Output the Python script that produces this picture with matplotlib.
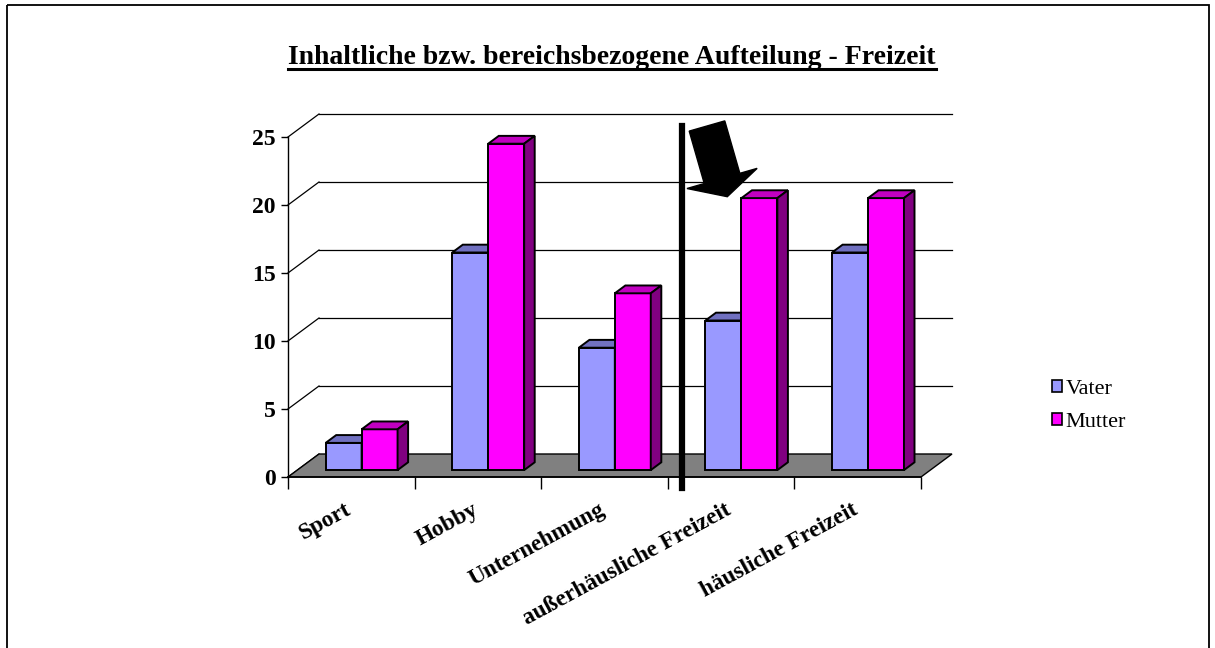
import numpy as np
import matplotlib.pyplot as plt
from matplotlib.patches import Polygon, Patch, Rectangle, FancyArrow

# data
categories = ['Sport', 'Hobby', 'Unternehmung', 'außerhäusliche Freizeit', 'häusliche Freizeit']
vater = [2, 16, 9, 11, 16]
mutter = [3, 24, 13, 20, 20]
series_names = ['Vater', 'Mutter']
y_ticks = [0, 5, 10, 15, 20, 25]
title_text = 'Inhaltliche bzw. bereichsbezogene Aufteilung - Freizeit'

# face colours: front, top, side
vater_colors = ('#9999ff', '#7070c0', '#4d4d99')
mutter_colors = ('#ff00ff', '#c000c0', '#800080')

W, H = 1215, 648
plt.rcParams['font.family'] = ['Liberation Serif', 'DejaVu Serif']
fig = plt.figure(figsize=(W / 100, H / 100), dpi=100)

n = len(categories)
ymax = 25

# front plane of the box: categories 0..n, values 0..ymax
ax = fig.add_axes([288 / W, 1 - 477 / H, 633 / W, 340 / H])
ax.set_xlim(0, n)
ax.set_ylim(0, ymax)
ax.patch.set_visible(False)
ax.spines['top'].set_visible(False)
ax.spines['right'].set_visible(False)
ax.spines['left'].set_linewidth(1.0)
ax.spines['bottom'].set_linewidth(1.2)

# depth of the pseudo 3d box, in data units
DX = 31 / (633 / n)
DY = 23 / (340 / ymax)

# side wall + back wall gridlines
for k in y_ticks:
    ax.plot([0, DX], [k, k + DY], color='black', lw=0.9, clip_on=False, zorder=1)
    if k > 0:
        ax.plot([DX, n + DX], [k + DY, k + DY], color='black', lw=0.9, clip_on=False, zorder=1)

# floor
floor = Polygon([(0, 0), (n, 0), (n + DX, DY), (DX, DY)], closed=True,
                facecolor='#808080', edgecolor='black', lw=1.0, clip_on=False, zorder=2)
ax.add_patch(floor)

# bars
bw = 0.284
f0, f1 = 0.30, 0.64
ddx, ddy = (f1 - f0) * DX, (f1 - f0) * DY
z = 3
for i in range(n):
    for j, (vals, cols) in enumerate([(vater, vater_colors), (mutter, mutter_colors)]):
        v = vals[i]
        x0 = i + 0.224 + j * bw + f0 * DX
        x1 = x0 + bw
        base = f0 * DY
        ax.bar(x0, v, width=bw, bottom=base, align='edge', color=cols[0],
               edgecolor='black', lw=1.4, clip_on=False, zorder=z)
        top = [(x0, v + base), (x1, v + base), (x1 + ddx, v + base + ddy), (x0 + ddx, v + base + ddy)]
        side = [(x1, base), (x1 + ddx, base + ddy), (x1 + ddx, v + base + ddy), (x1, v + base)]
        ax.add_patch(Polygon(top, closed=True, facecolor=cols[1], edgecolor='black',
                             lw=1.4, clip_on=False, zorder=z))
        ax.add_patch(Polygon(side, closed=True, facecolor=cols[2], edgecolor='black',
                             lw=1.4, clip_on=False, zorder=z))
        z += 1

# separator between indoor / outdoor groups
ax.plot([3.11, 3.11], [-0.8, 25.8], color='black', lw=4.5, clip_on=False, zorder=20)

# axes ticks
ax.set_yticks(y_ticks)
ax.set_yticklabels([str(t) for t in y_ticks], fontsize=17, fontweight='bold')
ax.tick_params(axis='y', direction='out', length=5, width=1, pad=4)

ax.set_xticks(range(n + 1))
ax.set_xticklabels([])
ax.tick_params(axis='x', which='major', direction='out', length=8.6, width=1)
ax.set_xticks([i + 0.45 for i in range(n)], minor=True)
ax.set_xticklabels(categories, minor=True, fontsize=16.8, fontweight='bold',
                   rotation=28.5, ha='right', rotation_mode='anchor')
ax.tick_params(axis='x', which='minor', length=0, pad=16)

# legend
handles = [Patch(facecolor=c[0], edgecolor='black', lw=1.2) for c in (vater_colors, mutter_colors)]
fig.legend(handles, series_names, loc='center left', bbox_to_anchor=(1052 / W, 1 - 406 / H),
           frameon=False, fontsize=16, handlelength=0.45, handleheight=0.45,
           handletextpad=0.15, labelspacing=0.6, borderpad=0, borderaxespad=0)

# title (underlined)
title = fig.text(612 / W, 1 - 64 / H, title_text, ha='center', va='baseline',
                 fontsize=20, fontweight='bold')

# overlay in pixel units for border, arrow and underline
ov = fig.add_axes([0, 0, 1, 1], zorder=5)
ov.set_xlim(0, W)
ov.set_ylim(H, 0)
ov.axis('off')
ov.patch.set_visible(False)

ov.add_patch(Rectangle((7, 5), 1202, 700, fill=False, edgecolor='black', lw=1.3))
ov.add_patch(FancyArrow(707, 126, 20.3, 70.7, width=37, head_width=73, head_length=19,
                        length_includes_head=True, color='black'))

fig.canvas.draw()
bb = title.get_window_extent(fig.canvas.get_renderer())
ov.plot([bb.x0, bb.x1], [68.5, 68.5], color='black', lw=2.2)

fig.savefig('out.png', dpi=100)
